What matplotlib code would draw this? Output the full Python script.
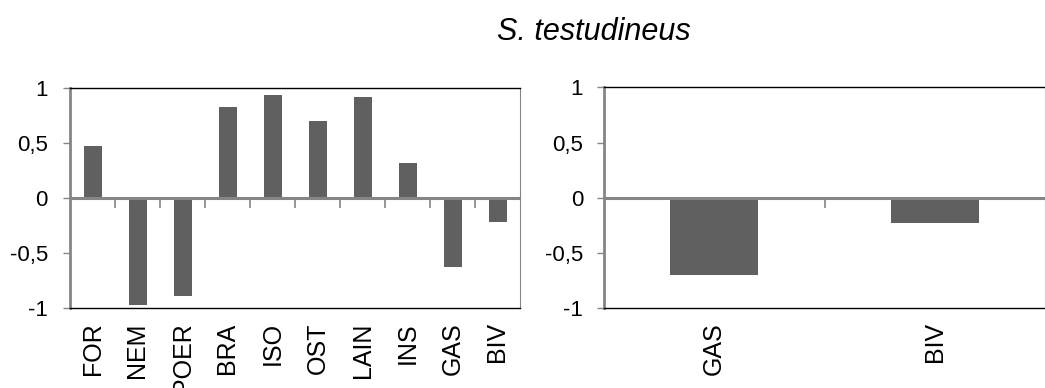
import matplotlib
matplotlib.use('Agg')
import matplotlib.pyplot as plt
import numpy as np

matplotlib.rc('font', **{'family': 'Liberation Sans'})

# data
left_cats = ['FOR', 'NEM', 'POER', 'BRA', 'ISO', 'OST', 'LAIN', 'INS', 'GAS', 'BIV']
left_vals = [0.48, -0.97, -0.89, 0.83, 0.94, 0.70, 0.92, 0.32, -0.62, -0.21]
right_cats = ['GAS', 'BIV']
right_vals = [-0.70, -0.23]
yticks = [-1, -0.5, 0, 0.5, 1]
ytick_labels = ['-1', '-0,5', '0', '0,5', '1']

bar_col = '#606060'
gray = '#858585'

fig = plt.figure(figsize=(10.45, 3.88), dpi=100)
ax1 = fig.add_axes([70/1045, 0.205, 450/1045, 0.567])
ax2 = fig.add_axes([604/1045, 0.205, 441/1045, 0.570])


def draw(ax, cats, vals, pad):
    x = np.arange(len(cats))
    ax.bar(x, vals, width=0.4, color=bar_col, zorder=2)
    ax.set_xlim(-0.5, len(cats) - 0.5)
    ax.set_ylim(-1, 1)
    ax.axhline(0, color=gray, lw=2.2, zorder=3)
    ax.set_yticks(yticks)
    ax.set_yticklabels(ytick_labels)
    ax.tick_params(axis='y', direction='out', length=5, width=1, color=gray,
                   labelsize=16, pad=pad)
    ax.set_xticks(x)
    ax.set_xticklabels(cats, rotation=90, va='top')
    ax.tick_params(axis='x', length=0, labelsize=18, pad=10)
    # boundary ticks on the zero line, pointing down
    sec = ax.secondary_xaxis(0.5)
    sec.set_xticks(x[:-1] + 0.5)
    sec.set_xticklabels([])
    sec.tick_params(direction='in', length=7, width=1.2, color=gray)
    sec.spines['bottom'].set_visible(False)
    ax.spines['left'].set_color(gray)
    ax.spines['left'].set_linewidth(2)
    ax.spines['right'].set_color(gray)
    ax.spines['top'].set_color('black')
    ax.spines['bottom'].set_color('black')
    ax.spines['top'].set_linewidth(1)
    ax.spines['bottom'].set_linewidth(1)


draw(ax1, left_cats, left_vals, 11)
draw(ax2, right_cats, right_vals, 10)

fig.text(594/1045, 1 - 40/388, 'S. testudineus', ha='center', va='baseline',
         fontsize=22, style='italic')

plt.savefig('out.png', dpi=100)
